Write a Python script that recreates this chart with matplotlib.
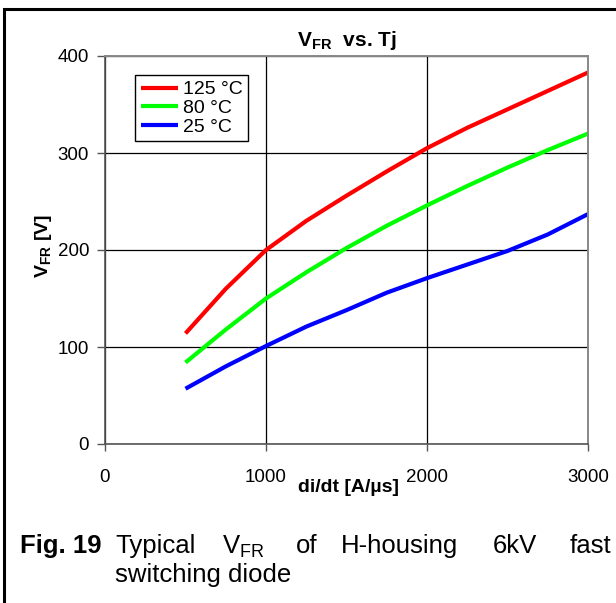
import matplotlib
matplotlib.use('Agg')
import matplotlib.pyplot as plt
from matplotlib.patches import Rectangle

plt.rcParams['font.family'] = ['Liberation Sans', 'DejaVu Sans']
plt.rcParams['mathtext.fontset'] = 'custom'
plt.rcParams['mathtext.rm'] = 'Liberation Sans'
plt.rcParams['mathtext.bf'] = 'Liberation Sans:bold'

# forward recovery voltage vs. di/dt for three junction temperatures
didt = [500, 750, 1000, 1250, 1500, 1750, 2000, 2250, 2500, 2750, 3000]
vfr_125 = [114, 160, 200, 230, 256, 281, 305, 326, 345, 364, 383]
vfr_80 = [84, 118, 150, 177, 202, 225, 246, 266, 285, 303, 320]
vfr_25 = [57, 80, 101, 121, 138, 156, 171, 185, 199, 216, 237]
labels = ['125 °C', '80 °C', '25 °C']
colors = ['#ff0000', '#00ff00', '#0000ff']

W, H = 616, 603
fig = plt.figure(figsize=(W / 100, H / 100), dpi=100)

def fx(px):
    return px / W

def fy(py):
    return 1 - py / H

ax = fig.add_axes([fx(105), fy(444), fx(588) - fx(105), fy(56) - fy(444)])

for y, lab, c in zip([vfr_125, vfr_80, vfr_25], labels, colors):
    ax.plot(didt, y, color=c, lw=3.0, label=lab, solid_capstyle='butt')

ax.set_xlim(0, 3000)
ax.set_ylim(0, 400)
ax.set_xticks([0, 1000, 2000, 3000])
ax.set_yticks([0, 100, 200, 300, 400])
ax.grid(True, color='black', lw=0.9)
ax.set_axisbelow(True)

for s in ['top', 'right']:
    ax.spines[s].set_color('#888888')
    ax.spines[s].set_linewidth(1.4)
for s in ['left', 'bottom']:
    ax.spines[s].set_color('#555555')
    ax.spines[s].set_linewidth(1.2)

ax.tick_params(axis='y', direction='out', length=6, width=1, color='#555555',
               pad=5.5, labelsize=13.5)
ax.tick_params(axis='x', direction='out', length=5, width=1, color='#555555',
               pad=13, labelsize=13.5)

leg = ax.legend(loc='upper left', bbox_to_anchor=(0.062, 0.951),
                borderaxespad=0, fancybox=False, framealpha=1,
                edgecolor='black', fontsize=14, handlelength=1.9,
                handletextpad=0.25, labelspacing=0.05, borderpad=0.3)
leg.get_frame().set_linewidth(1.0)

fig.text(fx(347), fy(41), r'V$_{\mathbf{FR}}$  vs. Tj', ha='center', va='center',
         fontsize=15, fontweight='bold')
fig.text(fx(44), fy(246), r'V$_{\mathbf{FR}}$ [V]', ha='center', va='center',
         rotation=90, fontsize=14, fontweight='bold')
fig.text(fx(349), fy(487), 'di/dt [A/µs]', ha='center', va='center',
         fontsize=14, fontweight='bold')

# caption, words placed to give the justified look
cap = 18.5
fig.text(fx(20), fy(553), 'Fig. 19', fontsize=cap, fontweight='bold',
         ha='left', va='baseline')
words = [(115, 'Typical'), (222, r'V$_{\mathrm{FR}}$'), (296, 'of'),
         (341, 'H-housing'), (493, '6kV'), (570, 'fast')]
for x0, w in words:
    fig.text(fx(x0), fy(553), w, fontsize=cap, ha='left', va='baseline')
fig.text(fx(115), fy(582), 'switching diode', fontsize=cap, ha='left',
         va='baseline')

# frame around the whole figure
fig.patches.append(Rectangle((fx(4), -0.2), 1.5, fy(9) + 0.2,
                             transform=fig.transFigure, fill=False,
                             lw=2.2, ec='black', clip_on=False))

fig.savefig('out.png', dpi=100)
